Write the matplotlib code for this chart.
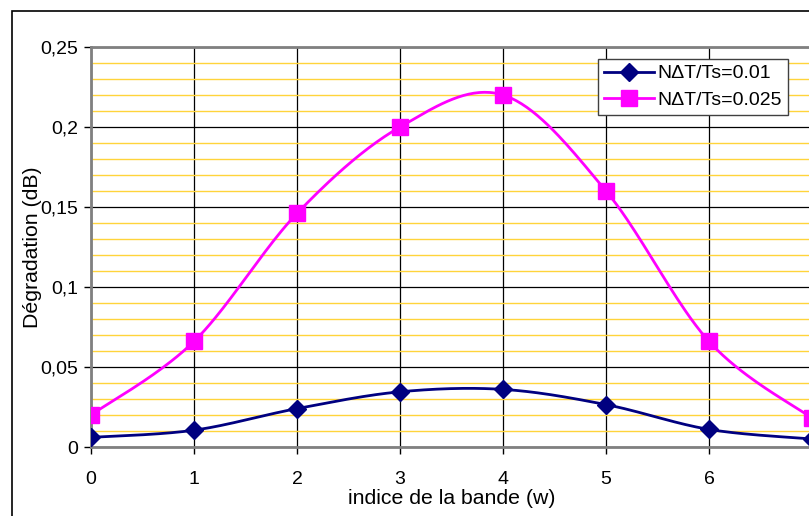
import matplotlib
matplotlib.use("Agg")
import matplotlib.pyplot as plt
from matplotlib.patches import Rectangle
from matplotlib.ticker import MultipleLocator, FuncFormatter
import numpy as np

# data
bands = [0, 1, 2, 3, 4, 5, 6, 7]
deg_001 = [0.006, 0.0105, 0.024, 0.0345, 0.036, 0.0265, 0.011, 0.005]
deg_0025 = [0.020, 0.066, 0.146, 0.200, 0.220, 0.160, 0.066, 0.018]
labels = ["N\u0394T/Ts=0.01", "N\u0394T/Ts=0.025"]

plt.rcParams["font.family"] = ["Liberation Sans", "DejaVu Sans"]


def excel_smooth(x, y, n=40):
    """Bezier smoothing like Excel's 'smoothed line' option."""
    x = np.asarray(x, float)
    y = np.asarray(y, float)
    px = np.concatenate([[x[0]], x, [x[-1]]])
    py = np.concatenate([[y[0]], y, [y[-1]]])
    xs, ys = [], []
    t = np.linspace(0, 1, n)
    for i in range(1, len(x)):
        p0 = np.array([px[i], py[i]])
        p3 = np.array([px[i + 1], py[i + 1]])
        c1 = p0 + (p3 - np.array([px[i - 1], py[i - 1]])) / 6
        c2 = p3 - (np.array([px[i + 2], py[i + 2]]) - p0) / 6
        b = ((1 - t) ** 3)[:, None] * p0 + (3 * (1 - t) ** 2 * t)[:, None] * c1 \
            + (3 * (1 - t) * t ** 2)[:, None] * c2 + (t ** 3)[:, None] * p3
        xs.append(b[:, 0])
        ys.append(b[:, 1])
    return np.concatenate(xs), np.concatenate(ys)


W, H = 809, 516
fig = plt.figure(figsize=(W / 100, H / 100), dpi=100)
fig.patch.set_facecolor("white")

# outer chart frame (clipped by the image on right and bottom)
fig.patches.append(Rectangle((12 / W, -0.1), 1.2, (H - 11) / H + 0.1,
                             transform=fig.transFigure, fill=False,
                             edgecolor="black", lw=1.2))

ax = fig.add_axes([91 / W, 69 / H, (812 - 91) / W, 400 / H])
ax.set_xlim(0, 7)
ax.set_ylim(0, 0.25)

# grid: yellow minor lines, black major lines
ax.yaxis.set_major_locator(MultipleLocator(0.05))
ax.yaxis.set_minor_locator(MultipleLocator(0.01))
ax.set_xticks(bands[:-1])
ax.grid(which="minor", axis="y", color="#FFD43B", lw=1.0)
ax.grid(which="major", axis="y", color="black", lw=0.9)
ax.grid(which="major", axis="x", color="black", lw=0.9)
ax.set_axisbelow(True)
ax.tick_params(which="minor", length=0)
ax.tick_params(which="major", direction="out", length=5, width=1,
               color="black", labelsize=14)
ax.tick_params(axis="x", pad=12)
ax.tick_params(axis="y", pad=4)
ax.yaxis.set_major_formatter(FuncFormatter(
    lambda v, p: ("%g" % round(v, 3)).replace(".", ",")))
for s in ax.spines.values():
    s.set_color("#808080")
    s.set_linewidth(2)

sx, sy = excel_smooth(bands, deg_001)
ax.plot(sx, sy, color="#000080", lw=2, zorder=3)
ax.plot(bands, deg_001, ls="none", marker="D", ms=9, color="#000080", zorder=4)
sx, sy = excel_smooth(bands, deg_0025)
ax.plot(sx, sy, color="#FF00FF", lw=2, zorder=3)
ax.plot(bands, deg_0025, ls="none", marker="s", ms=11, color="#FF00FF", zorder=4)

ax.set_ylabel("D\u00e9gradation (dB)", fontsize=15.3, labelpad=-1)
ax.set_xlabel("indice de la bande (w)", fontsize=15.3, labelpad=1)

# legend
h1, = ax.plot([], [], color="#000080", lw=2, marker="D", ms=9)
h2, = ax.plot([], [], color="#FF00FF", lw=2, marker="s", ms=11)
leg = ax.legend([h1, h2], labels, loc="upper left",
                bbox_to_anchor=((598 - 91) / (812 - 91), (447 - 59) / 400),
                fontsize=14, frameon=True, fancybox=False, handlelength=2.6,
                borderpad=0.3, labelspacing=0.45, handletextpad=0.15,
                borderaxespad=0)
leg.get_frame().set_edgecolor("#404040")
leg.get_frame().set_linewidth(1)
leg.get_frame().set_alpha(1)

fig.savefig("out.png", dpi=100)
